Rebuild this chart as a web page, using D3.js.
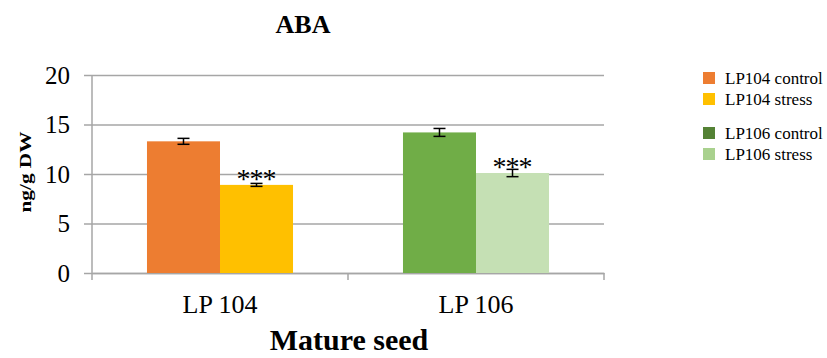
<!DOCTYPE html>
<html>
<head>
<meta charset="utf-8">
<script src="https://cdn.jsdelivr.net/npm/d3@7/dist/d3.min.js"></script>
<style>
  html, body { margin: 0; padding: 0; background: #fff; }
  svg { display: block; }
  text { font-family: "Liberation Serif", "Times New Roman", serif; fill: #000; }
</style>
</head>
<body>
<svg id="chart" width="827" height="358"></svg>
<script>
// Cultivars on the x axis and the two treatments drawn for each
const categories = ["LP 104", "LP 106"];
const treatments = ["control", "stress"];

// ABA content (ng/g DW) and standard errors
const controlValues = [13.3, 14.2];
const stressValues  = [8.9, 10.1];
const controlErrors = [0.3, 0.4];
const stressErrors  = [0.15, 0.37];

// Significance marks placed above the stress bars
const stressMarks = ["***", "***"];

// Bar fills per cultivar and treatment
const barColors = [["#ED7D31", "#FFC000"], ["#70AD47", "#C5E0B4"]];

// Legend entries and swatch colours
const legendLabels = ["LP104 control", "LP104 stress", "LP106 control", "LP106 stress"];
const legendColors = ["#ED7D31", "#FFC000", "#548235", "#A9D18E"];

const yTicks = [0, 5, 10, 15, 20];

const svg = d3.select("#chart");

const plot = { left: 92, right: 604, top: 75, bottom: 273 };

const x = d3.scaleBand()
  .domain(categories)
  .range([plot.left, plot.right])
  .padding(0);

const xInner = d3.scaleBand()
  .domain(treatments)
  .range([0, x.bandwidth()])
  .paddingInner(0)
  .paddingOuter(0.753);

const y = d3.scaleLinear()
  .domain([0, 20])
  .range([plot.bottom, plot.top]);

// Horizontal gridlines with ticks sticking out left of the axis
const yAxis = d3.axisLeft(y)
  .tickValues(yTicks)
  .tickSize(-(plot.right - plot.left) - 8)
  .tickFormat(d3.format("d"));

const gy = svg.append("g")
  .attr("transform", `translate(${plot.right},0)`)
  .call(yAxis);
gy.select(".domain").remove();
gy.selectAll(".tick line")
  .attr("x1", 0)
  .attr("x2", -(plot.right - plot.left) - 8)
  .attr("stroke", "#A6A6A6")
  .attr("stroke-width", 1.5);
gy.selectAll(".tick text").remove();

// Tick labels, right-aligned beside the axis
svg.append("g")
  .selectAll("text")
  .data(yTicks)
  .join("text")
  .attr("x", 70)
  .attr("y", d => y(d))
  .attr("dy", "0.35em")
  .attr("text-anchor", "end")
  .style("font-size", "25px")
  .text(d => d);

// Vertical axis line
svg.append("line")
  .attr("x1", plot.left).attr("x2", plot.left)
  .attr("y1", plot.top).attr("y2", plot.bottom)
  .attr("stroke", "#A6A6A6").attr("stroke-width", 1.5);

// Category axis
const xAxis = d3.axisBottom(x).tickSize(0).tickFormat("");
const gx = svg.append("g")
  .attr("transform", `translate(0,${plot.bottom})`)
  .call(xAxis);
gx.select(".domain").attr("stroke", "#A6A6A6").attr("stroke-width", 1.5);
const boundaries = [plot.left].concat(categories.map(c => x(c) + x.bandwidth()));
gx.selectAll(".boundary")
  .data(boundaries)
  .join("line")
  .attr("class", "boundary")
  .attr("x1", d => d).attr("x2", d => d)
  .attr("y1", 0).attr("y2", 7)
  .attr("stroke", "#A6A6A6").attr("stroke-width", 1.5);

svg.append("g")
  .selectAll("text")
  .data(categories)
  .join("text")
  .attr("x", d => x(d) + x.bandwidth() / 2)
  .attr("y", 313)
  .attr("text-anchor", "middle")
  .style("font-size", "26px")
  .text(d => d);

// Bars
const rows = categories.map((c, i) => [
  { cat: c, tr: "control", value: controlValues[i], err: controlErrors[i], color: barColors[i][0], mark: null },
  { cat: c, tr: "stress", value: stressValues[i], err: stressErrors[i], color: barColors[i][1], mark: stressMarks[i] }
]).flat();

const bars = svg.append("g");
bars.selectAll("rect")
  .data(rows)
  .join("rect")
  .attr("x", d => x(d.cat) + xInner(d.tr))
  .attr("y", d => y(d.value))
  .attr("width", xInner.bandwidth())
  .attr("height", d => y(0) - y(d.value))
  .attr("fill", d => d.color);

// Error bars
const errG = svg.append("g").attr("stroke", "#000").attr("stroke-width", 1.5);
rows.forEach(d => {
  const cx = x(d.cat) + xInner(d.tr) + xInner.bandwidth() / 2;
  errG.append("line")
    .attr("x1", cx).attr("x2", cx)
    .attr("y1", y(d.value + d.err)).attr("y2", y(d.value - d.err));
  [d.value + d.err, d.value - d.err].forEach(v => {
    errG.append("line")
      .attr("x1", cx - 6).attr("x2", cx + 6)
      .attr("y1", y(v)).attr("y2", y(v));
  });
});

// Significance asterisks
svg.append("g")
  .selectAll("text")
  .data(rows.filter(d => d.mark))
  .join("text")
  .attr("x", d => x(d.cat) + xInner(d.tr) + xInner.bandwidth() / 2)
  .attr("y", d => y(d.value) + 3)
  .attr("text-anchor", "middle")
  .attr("textLength", 40)
  .attr("lengthAdjust", "spacing")
  .style("font-size", "28px")
  .text(d => d.mark);

// Title
svg.append("text")
  .attr("x", 303).attr("y", 33)
  .attr("text-anchor", "middle")
  .style("font-size", "26px")
  .style("font-weight", "bold")
  .text("ABA");

// Axis titles
svg.append("text")
  .attr("transform", "translate(31,172) rotate(-90)")
  .attr("text-anchor", "middle")
  .attr("textLength", 81)
  .attr("lengthAdjust", "spacingAndGlyphs")
  .style("font-size", "17px")
  .style("font-weight", "bold")
  .text("ng/g DW");

svg.append("text")
  .attr("x", 349).attr("y", 350)
  .attr("text-anchor", "middle")
  .style("font-size", "30px")
  .style("font-weight", "bold")
  .text("Mature seed");

// Legend
const legendY = [78, 99, 133, 154];
const lg = svg.append("g");
legendLabels.forEach((lab, i) => {
  lg.append("rect")
    .attr("x", 703).attr("y", legendY[i] - 6)
    .attr("width", 12).attr("height", 12)
    .attr("fill", legendColors[i]);
  lg.append("text")
    .attr("x", 725).attr("y", legendY[i])
    .attr("dy", "0.35em")
    .style("font-size", "17px")
    .text(lab);
});
</script>
</body>
</html>
